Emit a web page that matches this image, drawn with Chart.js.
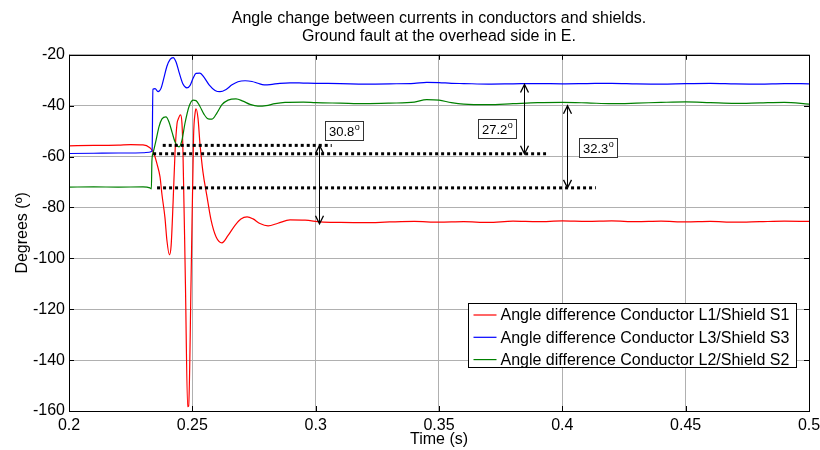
<!DOCTYPE html>
<html>
<head>
<meta charset="utf-8">
<title>Angle change between currents in conductors and shields</title>
<script src="https://cdn.jsdelivr.net/npm/chart.js@4.4.1/dist/chart.umd.min.js"></script>
<style>
  html, body { margin: 0; padding: 0; background: #fff; }
  canvas { display: block; }
</style>
</head>
<body>
<canvas id="chart" width="820" height="450"></canvas>
<script>
const FONT = '"Liberation Sans", Arial, Helvetica, sans-serif';

const xTicks = [0.2, 0.25, 0.3, 0.35, 0.4, 0.45, 0.5];
const yTicks = [-160, -140, -120, -100, -80, -60, -40, -20];

const seriesNames = [
    'Angle difference Conductor L1/Shield S1',
    'Angle difference Conductor L3/Shield S3',
    'Angle difference Conductor L2/Shield S2',
];
const seriesColors = ['#ff0000', '#0000ff', '#008000'];

// L1 / S1
const timeL1 = [0.2, 0.21, 0.22, 0.225, 0.23, 0.2328, 0.2337, 0.2345, 0.2357, 0.2369, 0.2377, 0.2389, 0.2397,
    0.2407, 0.2414, 0.2422, 0.243, 0.2438, 0.2442, 0.2452, 0.2458, 0.2462, 0.2472, 0.2481, 0.2485, 0.2495,
    0.2505, 0.2511, 0.2515, 0.2523, 0.2531, 0.2543, 0.256, 0.2576, 0.2596, 0.262, 0.2645, 0.2673, 0.2697,
    0.2722, 0.2746, 0.2774, 0.2807, 0.2847, 0.2896, 0.2957, 0.302, 0.31, 0.32, 0.33, 0.34, 0.35, 0.36, 0.37,
    0.38, 0.39, 0.4, 0.41, 0.42, 0.43, 0.44, 0.45, 0.46, 0.47, 0.48, 0.49, 0.5];
const angleL1 = [-55.8, -55.6, -55.5, -55.3, -55.4, -56.5, -57.5, -59, -63, -68, -75, -84, -93,
    -98.6, -95, -78, -58, -47, -45.5, -43.6, -47, -58, -110, -158.3, -158, -108,
    -52, -43, -41.2, -45, -55, -66, -76, -85, -91.5, -93.9, -91, -87, -84.5,
    -83.7, -84.5, -86.3, -87.2, -86.2, -84.9, -85, -85.7, -85.9, -86.0, -85.7, -85.5, -85.8, -85.6, -85.9,
    -85.4, -85.6, -85.3, -85.5, -85.3, -85.6, -85.4, -85.7, -85.5, -85.8, -85.6, -85.4, -85.5];

// L3 / S3
const timeL3 = [0.2, 0.21, 0.22, 0.23, 0.2325, 0.2337, 0.234, 0.2349, 0.2361, 0.2373, 0.2385, 0.2397, 0.241,
    0.2422, 0.2434, 0.2446, 0.2462, 0.2478, 0.2491, 0.2503, 0.2515, 0.2531, 0.2547, 0.2568, 0.2592, 0.2612,
    0.2637, 0.2661, 0.2685, 0.2714, 0.2742, 0.2766, 0.2791, 0.2815, 0.2855, 0.2896, 0.295, 0.3, 0.31, 0.32,
    0.33, 0.34, 0.345, 0.35, 0.355, 0.36, 0.37, 0.38, 0.39, 0.4, 0.41, 0.42, 0.43, 0.44, 0.45, 0.46, 0.47,
    0.48, 0.49, 0.5];
const angleL3 = [-58.8, -58.7, -58.6, -58.5, -58.3, -57.8, -33.5, -33.3, -34.5, -33.2, -29, -24.5, -21.8,
    -21.1, -22.8, -26.8, -31.5, -33, -32, -29.2, -27.3, -27.2, -28.8, -31.8, -34, -34.5,
    -33.6, -31.8, -30.6, -30.2, -30.5, -31.2, -31.8, -31.7, -31.2, -31.0, -31.1, -31.2, -31.3, -31.5,
    -31.4, -31.2, -30.8, -30.9, -31.2, -31.3, -31.5, -31.4, -31.3, -31.4, -31.3, -31.2, -31.4, -31.5, -31.3, -31.2, -31.4,
    -31.5, -31.3, -31.4];

// L2 / S2
const timeL2 = [0.2, 0.21, 0.22, 0.23, 0.2328, 0.2334, 0.2336, 0.2341, 0.2353, 0.2365, 0.2377, 0.2393, 0.2405,
    0.2418, 0.243, 0.2446, 0.2458, 0.247, 0.2486, 0.2503, 0.2515, 0.2531, 0.2547, 0.2564, 0.258, 0.26,
    0.262, 0.2645, 0.2677, 0.2705, 0.2734, 0.2766, 0.2799, 0.2835, 0.2876, 0.295, 0.3, 0.31, 0.32, 0.33,
    0.34, 0.345, 0.35, 0.355, 0.36, 0.37, 0.38, 0.39, 0.4, 0.41, 0.42, 0.43, 0.44, 0.45, 0.46, 0.47, 0.48,
    0.49, 0.5];
const angleL2 = [-72.0, -71.9, -72.0, -71.9, -72.3, -72.7, -62, -58.5, -53.5, -48.2, -45.2, -44.4, -46.3,
    -50.5, -54.3, -56.2, -53.5, -47, -40.5, -37.8, -38, -40.3, -43.3, -45.2, -45.3, -42.8,
    -39.6, -37.8, -37.3, -38.2, -39.5, -40.2, -40, -39.2, -38.7, -38.6, -38.8, -39.0, -39.2, -39.0,
    -38.6, -37.6, -37.8, -38.8, -39.4, -39.6, -39.2, -38.8, -38.7, -38.9, -39.2, -39.0, -38.7, -38.5, -38.8, -39.1, -38.9,
    -38.7, -39.4];

// dotted steady-state reference levels
const refLevels = [-55.6, -58.9, -72.3];
const refStart = [0.2380, 0.2341, 0.2357];
const refEnd = [0.3065, 0.3934, 0.4136];

// measured angle shifts (double arrows + boxed values)
const gapValues = [30.8, 27.2, 32.3];
const gapTime = [0.3014, 0.3845, 0.4019];
const gapLow = [-86.4, -58.9, -72.3];
const labelTime = [0.3115, 0.3735, 0.4145];
const labelAngle = [-49.7, -48.9, -56.5];

function points(ts, vs) {
    return ts.map((t, i) => ({ x: t, y: vs[i] }));
}

function arrowHead(ctx, x, y, dir) {
    ctx.beginPath();
    ctx.moveTo(x - 4, y - 8 * dir);
    ctx.lineTo(x, y);
    ctx.lineTo(x + 4, y - 8 * dir);
    ctx.stroke();
}

const gapMarks = {
    id: 'gapMarks',
    afterDatasetsDraw(chart) {
        const { ctx, scales: { x, y } } = chart;
        ctx.save();
        ctx.strokeStyle = '#000';
        gapTime.forEach((t, i) => {
            const px = Math.round(x.getPixelForValue(t)) + 0.5;
            const yLow = y.getPixelForValue(gapLow[i]);
            const yHigh = y.getPixelForValue(gapLow[i] + gapValues[i]);
            ctx.lineWidth = 1;
            ctx.beginPath();
            ctx.moveTo(px, yHigh);
            ctx.lineTo(px, yLow);
            ctx.stroke();
            ctx.lineWidth = 1.3;
            arrowHead(ctx, px, yHigh, -1);
            arrowHead(ctx, px, yLow, 1);

            const text = gapValues[i].toFixed(1);
            ctx.font = '13px ' + FONT;
            const tw = ctx.measureText(text).width;
            ctx.font = '9px ' + FONT;
            const ow = ctx.measureText('o').width;
            const w = Math.round(tw + ow + 8);
            const h = 19;
            const cx = x.getPixelForValue(labelTime[i]);
            const cy = y.getPixelForValue(labelAngle[i]);
            const bx = Math.round(cx - w / 2) + 0.5;
            const by = Math.round(cy - h / 2) + 0.5;
            ctx.fillStyle = '#fff';
            ctx.fillRect(bx, by, w, h);
            ctx.lineWidth = 1;
            ctx.strokeStyle = '#333';
            ctx.strokeRect(bx, by, w, h);
            ctx.strokeStyle = '#000';
            ctx.fillStyle = '#000';
            ctx.textBaseline = 'middle';
            ctx.font = '13px ' + FONT;
            ctx.fillText(text, bx + 3.5, by + h / 2 + 1);
            ctx.font = '9px ' + FONT;
            ctx.fillText('o', bx + 4 + tw, by + h / 2 - 3);
        });
        ctx.restore();
    },
};

const legendBox = {
    id: 'legendBox',
    afterDatasetsDraw(chart) {
        const { ctx, chartArea } = chart;
        const items = chart.data.datasets.slice(0, seriesNames.length);
        ctx.save();
        ctx.font = '16px ' + FONT;
        const textW = Math.max(...items.map((d) => ctx.measureText(d.label).width));
        const w = Math.round(textW + 39);
        const h = 64;
        const right = chartArea.right - 13;
        const bottom = chartArea.bottom - 44;
        const left = Math.round(right - w) + 0.5;
        const top = Math.round(bottom - h) + 0.5;
        ctx.fillStyle = '#fff';
        ctx.fillRect(left, top, w, h);
        ctx.strokeStyle = '#000';
        ctx.lineWidth = 1;
        ctx.strokeRect(left, top, w, h);
        items.forEach((d, i) => {
            const cy = top + 11.5 + i * 22.3;
            ctx.strokeStyle = d.borderColor;
            ctx.lineWidth = 1.2;
            ctx.beginPath();
            ctx.moveTo(left + 5, cy);
            ctx.lineTo(left + 28, cy);
            ctx.stroke();
            ctx.fillStyle = '#000';
            ctx.textBaseline = 'middle';
            ctx.fillText(d.label, left + 32, cy + 1);
        });
        ctx.restore();
    },
};

// axes box with inward tick marks on all four sides
const axesFrame = {
    id: 'axesFrame',
    afterDraw(chart) {
        const { ctx, chartArea: a, scales: { x, y } } = chart;
        ctx.save();
        ctx.strokeStyle = '#000';
        ctx.lineWidth = 1;
        ctx.strokeRect(Math.round(a.left) + 0.5, Math.round(a.top) + 0.5,
            Math.round(a.right - a.left), Math.round(a.bottom - a.top));
        ctx.beginPath();
        xTicks.forEach((v) => {
            const px = Math.round(x.getPixelForValue(v)) + 0.5;
            ctx.moveTo(px, a.top);
            ctx.lineTo(px, a.top + 5);
            ctx.moveTo(px, a.bottom);
            ctx.lineTo(px, a.bottom - 5);
        });
        yTicks.forEach((v) => {
            const py = Math.round(y.getPixelForValue(v)) + 0.5;
            ctx.moveTo(a.left, py);
            ctx.lineTo(a.left + 5, py);
            ctx.moveTo(a.right, py);
            ctx.lineTo(a.right - 5, py);
        });
        ctx.stroke();
        ctx.restore();
    },
};

Chart.defaults.font.family = FONT;
Chart.defaults.font.size = 16;
Chart.defaults.color = '#000';

const lines = [
    points(timeL1, angleL1),
    points(timeL3, angleL3),
    points(timeL2, angleL2),
].map((data, i) => ({
    label: seriesNames[i],
    data: data,
    borderColor: seriesColors[i],
    borderWidth: 1.2,
    pointRadius: 0,
    cubicInterpolationMode: 'monotone',
    order: 3 - i,
}));

const refLines = refLevels.map((lvl, i) => ({
    label: '',
    data: [{ x: refStart[i], y: lvl }, { x: refEnd[i], y: lvl }],
    borderColor: '#000',
    borderWidth: 3,
    borderDash: [3, 3],
    borderCapStyle: 'butt',
    pointRadius: 0,
    order: 0,
}));

new Chart(document.getElementById('chart'), {
    type: 'line',
    data: { datasets: lines.concat(refLines) },
    options: {
        responsive: false,
        animation: false,
        events: [],
        layout: { padding: { left: 0, right: 11, top: 0, bottom: 0 } },
        scales: {
            x: {
                type: 'linear',
                min: 0.2,
                max: 0.5,
                afterBuildTicks: (scale) => { scale.ticks = xTicks.map((v) => ({ value: v })); },
                afterFit: (scale) => {
                    scale.height = 39;
                    scale.paddingLeft = 0;
                    scale.paddingRight = 0;
                },
                ticks: {
                    autoSkip: false,
                    maxRotation: 0,
                    padding: 5,
                    callback: (v) => String(Number(v.toFixed(2))),
                },
                grid: { color: '#b0b0b0', drawTicks: false },
                border: { display: false },
                title: { display: true, text: 'Time (s)', font: { size: 16, lineHeight: 1.125 }, padding: { top: 0, bottom: 1 } },
            },
            y: {
                min: -160,
                max: -20,
                afterBuildTicks: (scale) => { scale.ticks = yTicks.map((v) => ({ value: v })); },
                afterFit: (scale) => {
                    scale.width = 69;
                    scale.paddingTop = 0;
                    scale.paddingBottom = 0;
                },
                ticks: { padding: 4 },
                grid: { color: '#b0b0b0', drawTicks: false },
                border: { display: false },
                title: { display: true, text: 'Degrees (º)', font: { size: 16, lineHeight: 1.125 }, padding: { top: 14, bottom: 0 } },
            },
        },
        plugins: {
            legend: { display: false },
            tooltip: { enabled: false },
            title: {
                display: true,
                fullSize: false,
                text: ['Angle change between currents in conductors and shields.', 'Ground fault at the overhead side in E.'],
                font: { size: 16, weight: 'normal', lineHeight: 1.15 },
                padding: { top: 9, bottom: 9 },
            },
        },
    },
    plugins: [gapMarks, legendBox, axesFrame],
});
</script>
</body>
</html>
